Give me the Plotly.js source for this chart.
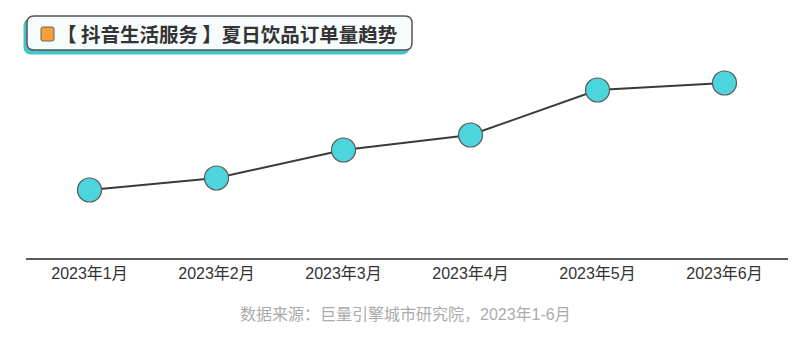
<!DOCTYPE html>
<html>
<head>
<meta charset="utf-8">
<script src="https://cdn.plot.ly/plotly-3.0.1.min.js"></script>
<style>html,body{margin:0;padding:0;background:#fff;}#chart{width:800px;height:352px;}</style>
</head>
<body>
<div id="chart"></div>
<script>
var months = ["2023年1月","2023年2月","2023年3月","2023年4月","2023年5月","2023年6月"];
var orders = [68, 80, 108, 123, 168, 175];
var titleText = "【 抖音生活服务 】夏日饮品订单量趋势";
var sourceText = "数据来源：巨量引擎城市研究院，2023年1-6月";

var W = 800, H = 352;
var M = {l: 26, r: 12, t: 58, b: 94};
var PW = W - M.l - M.r, PH = H - M.t - M.b;
function px(x){ return (x - M.l) / PW; }
function py(y){ return (H - M.b - y) / PH; }
function roundRect(x0, y0, x1, y1, r){
  function P(x, y){ return px(x) + "," + py(y); }
  return "M" + P(x0 + r, y0) + " L" + P(x1 - r, y0) +
    " Q" + P(x1, y0) + " " + P(x1, y0 + r) +
    " L" + P(x1, y1 - r) + " Q" + P(x1, y1) + " " + P(x1 - r, y1) +
    " L" + P(x0 + r, y1) + " Q" + P(x0, y1) + " " + P(x0, y1 - r) +
    " L" + P(x0, y0 + r) + " Q" + P(x0, y0) + " " + P(x0 + r, y0) + " Z";
}

var trace = {
  x: months, y: orders, type: "scatter", mode: "lines+markers",
  line: {color: "#3a3a3a", width: 2},
  marker: {size: 24, color: "#4dd5dd", line: {color: "#5a5a5a", width: 1.2}},
  hoverinfo: "skip", cliponaxis: false
};

var layout = {
  width: W, height: H,
  margin: M,
  paper_bgcolor: "#ffffff", plot_bgcolor: "#ffffff",
  showlegend: false,
  font: {family: "'Noto Sans CJK SC', 'Liberation Sans', sans-serif", color: "#333"},
  xaxis: {
    type: "category", range: [-0.5, 5.5], showgrid: false, zeroline: false,
    showline: true, linecolor: "#5a5a5a", linewidth: 2, ticks: "",
    tickfont: {size: 16, color: "#333", family: "'Liberation Sans', 'Noto Sans CJK SC', sans-serif"},
    ticklabelstandoff: 0
  },
  yaxis: {range: [0, 200], visible: false, fixedrange: true},
  shapes: [
    {type: "path", xref: "paper", yref: "paper", path: roundRect(24, 19, 409, 54, 7),
     fillcolor: "#45c3cb", line: {color: "#45c3cb", width: 1}},
    {type: "path", xref: "paper", yref: "paper", path: roundRect(27, 16, 412, 50, 7),
     fillcolor: "#f6fbfc", line: {color: "#555555", width: 1.5}},
    {type: "path", xref: "paper", yref: "paper", path: roundRect(41, 27, 54, 41, 2),
     fillcolor: "#f7a03a", line: {color: "#666666", width: 1}}
  ],
  annotations: [
    {xref: "paper", yref: "paper", x: px(55), y: py(33.5), xanchor: "left", yanchor: "middle",
     text: "<b>" + titleText + "</b>", showarrow: false,
     font: {size: 19.5, color: "#333333", family: "'Noto Sans CJK SC', sans-serif"}},
    {xref: "paper", yref: "paper", x: px(405), y: py(314), xanchor: "center", yanchor: "middle",
     text: sourceText, showarrow: false,
     font: {size: 16, color: "#ababab", family: "'Liberation Sans', 'Noto Sans CJK SC', sans-serif"}}
  ]
};

Plotly.newPlot("chart", [trace], layout, {displayModeBar: false, staticPlot: true});
</script>
</body>
</html>
